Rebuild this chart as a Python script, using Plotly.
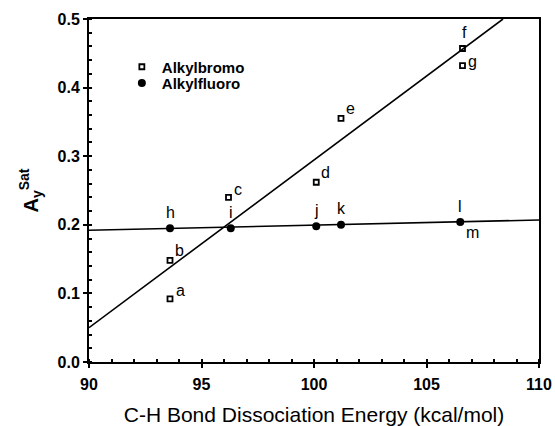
import plotly.graph_objects as go

# Alkylbromo (open squares)
bromo_x = [93.6, 93.6, 96.2, 100.1, 101.2, 106.6, 106.6]
bromo_y = [0.092, 0.148, 0.240, 0.262, 0.355, 0.457, 0.432]
bromo_lbl = ["a", "b", "c", "d", "e", "f", "g"]

# Alkylfluoro (filled circles)
fluoro_x = [93.6, 96.3, 100.1, 101.2, 106.5]
fluoro_y = [0.195, 0.195, 0.198, 0.200, 0.204]
fluoro_lbl = ["h", "i", "j", "k", "l"]

# extra label m (coincides with l)
m_x, m_y = [106.5], [0.204]

# fitted lines
bromo_fit_x = [90.0, 108.4]
bromo_fit_y = [0.050, 0.500]
fluoro_fit_x = [90.0, 110.0]
fluoro_fit_y = [0.192, 0.207]

font = "Liberation Sans, Arial, sans-serif"

fig = go.Figure()
fig.add_trace(go.Scatter(x=bromo_fit_x, y=bromo_fit_y, mode="lines",
                         line=dict(color="black", width=1.6), showlegend=False))
fig.add_trace(go.Scatter(x=fluoro_fit_x, y=fluoro_fit_y, mode="lines",
                         line=dict(color="black", width=1.6), showlegend=False))
fig.add_trace(go.Scatter(x=bromo_x, y=bromo_y, mode="markers", name="Alkylbromo",
                         legend="legend",
                         marker=dict(symbol="square-open", size=5, color="black",
                                     line=dict(width=1.8, color="black"))))
fig.add_trace(go.Scatter(x=fluoro_x, y=fluoro_y, mode="markers", name="Alkylfluoro",
                         legend="legend2",
                         marker=dict(symbol="circle", size=8, color="black")))

# labels
offsets_b = {"a": (10, -8), "b": (9, -10), "c": (9, -8), "d": (9, -10), "e": (9, -10), "f": (2, -16), "g": (10, -4)}
lbl_font = dict(family=font, size=16, color="black")
for x, y, t in zip(bromo_x, bromo_y, bromo_lbl):
    dx, dy = offsets_b[t]
    fig.add_annotation(x=x, y=y, text=t, showarrow=False, xshift=dx, yshift=-dy, font=lbl_font)
for x, y, t in zip(fluoro_x, fluoro_y, fluoro_lbl):
    fig.add_annotation(x=x, y=y, text=t, showarrow=False, xshift=0, yshift=16, font=lbl_font)
fig.add_annotation(x=m_x[0], y=m_y[0], text="m", showarrow=False, xshift=12, yshift=-10, font=lbl_font)

axis_common = dict(showline=True, linecolor="black", linewidth=2, mirror=True,
                   ticks="outside", ticklen=4, tickwidth=2, tickcolor="black",
                   showgrid=False, zeroline=False, automargin=False,
                   tickfont=dict(family=font, size=16, color="black", weight="bold"))

fig.update_xaxes(range=[90, 110], tick0=90, dtick=5, ticklabelstandoff=3,
                 minor=dict(dtick=1, ticks="inside", ticklen=3, tickcolor="black", tickwidth=1.5),
                 title=dict(text="C-H Bond Dissociation Energy (kcal/mol)",
                            font=dict(family=font, size=21, color="black"), standoff=22),
                 **axis_common)
fig.update_yaxes(range=[0, 0.5], tick0=0, dtick=0.1, tickformat=".1f",
                 minor=dict(dtick=0.02, ticks="inside", ticklen=3, tickcolor="black", tickwidth=1.5),
                 title=dict(text="<b>A<sub>y</sub><sup>Sat</sup></b>",
                            font=dict(family=font, size=20, color="black"), standoff=14),
                 **axis_common)

leg_common = dict(xanchor="left", yanchor="middle", bgcolor="rgba(0,0,0,0)",
                  font=dict(family=font, size=15, color="black", weight="bold"),
                  itemwidth=30)
fig.update_layout(width=555, height=426,
                  margin=dict(l=89, r=16, t=19, b=64),
                  paper_bgcolor="white", plot_bgcolor="white",
                  legend=dict(x=0.073, y=0.860, **leg_common),
                  legend2=dict(x=0.073, y=0.813, **leg_common))
fig.write_html("out.html")
